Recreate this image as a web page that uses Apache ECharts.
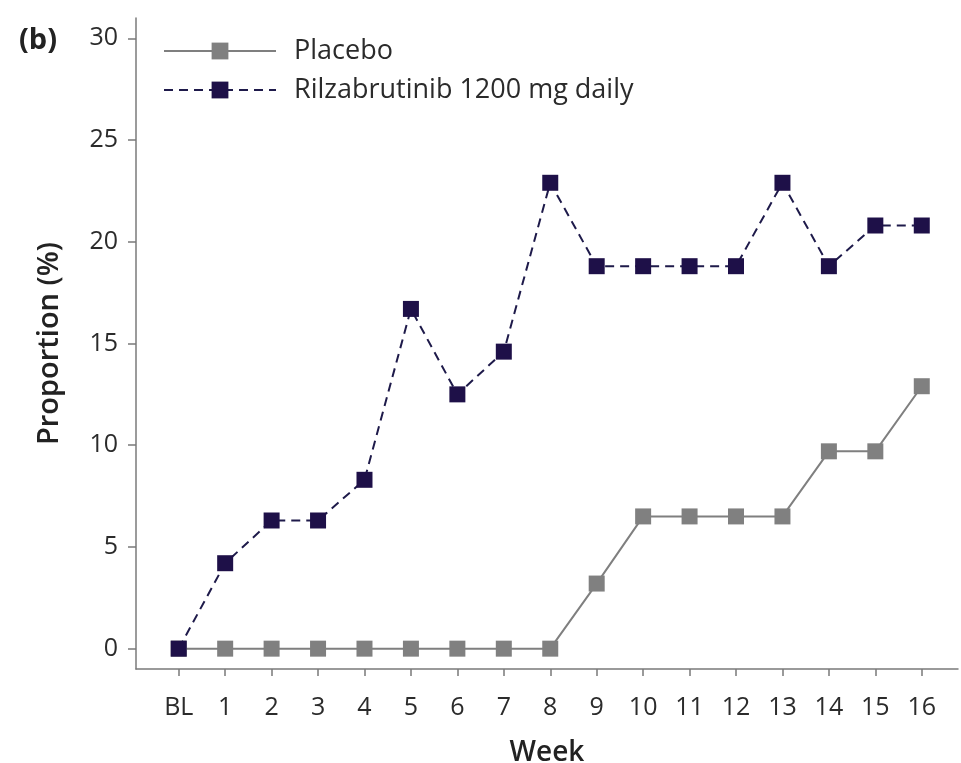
<!DOCTYPE html>
<html><head><meta charset="utf-8">
<script src="https://cdn.jsdelivr.net/npm/echarts@6/dist/echarts.min.js"></script>
<style>html,body{margin:0;padding:0;background:#fff}#c{width:961px;height:763px}</style>
</head><body><div id="c"></div>
<script>
const weeks = ['BL','1','2','3','4','5','6','7','8','9','10','11','12','13','14','15','16'];
const placebo = [0,0,0,0,0,0,0,0,0,3.2,6.5,6.5,6.5,6.5,9.7,9.7,12.9];
const rilza = [0,4.2,6.3,6.3,8.3,16.7,12.5,14.6,22.9,18.8,18.8,18.8,18.8,22.9,18.8,20.8,20.8];
const yTicks = [0,5,10,15,20,25,30];
const seriesNames = ['Placebo','Rilzabrutinib 1200 mg daily'];

const FONT = 'Open Sans';
const axisColor = '#7a7a7a';
const textColor = '#2b2b2b';
const xIdx = weeks.map((w,i)=>i);

const chart = echarts.init(document.getElementById('c'), null, {renderer:'canvas'});
chart.setOption({
  backgroundColor:'#ffffff',
  animation:false,
  title:{text:'(b)', left:14, top:21, textStyle:{fontFamily:FONT, fontWeight:'bold', fontSize:29, color:'#222'}},
  legend:{
    orient:'vertical', left:158, top:31, itemWidth:112, itemHeight:21, itemGap:9,
    textStyle:{fontFamily:FONT, fontSize:27, lineHeight:30, color:textColor, padding:[0,0,0,13]},
    data:seriesNames
  },
  grid:{left:136, right:3, top:18, bottom:94, outerBoundsMode:'none'},
  xAxis:{
    type:'value', min:-0.92, max:16.78,
    name:'Week', nameLocation:'middle', nameGap:70,
    nameTextStyle:{fontFamily:FONT, fontSize:28, fontWeight:600, color:'#222'},
    axisLine:{onZero:false, lineStyle:{color:axisColor, width:1.5}},
    axisTick:{show:true, length:7, customValues:xIdx, lineStyle:{color:axisColor, width:1.5}},
    axisLabel:{customValues:xIdx, margin:26, fontFamily:FONT, fontSize:25, color:textColor,
      formatter:(v)=>weeks[Math.round(v)]},
    splitLine:{show:false}
  },
  yAxis:{
    type:'value', min:-1, max:31,
    name:'Proportion (%)', nameLocation:'middle', nameGap:72, nameRotate:90,
    nameTextStyle:{fontFamily:FONT, fontSize:29, fontWeight:600, color:'#222'},
    axisLine:{show:true, onZero:false, lineStyle:{color:axisColor, width:1.5}},
    axisTick:{show:true, length:8, customValues:yTicks, lineStyle:{color:axisColor, width:1.5}},
    axisLabel:{customValues:yTicks, margin:18, fontFamily:FONT, fontSize:25, color:textColor},
    splitLine:{show:false}
  },
  series:[
    {name:seriesNames[0], type:'line', data:placebo.map((v,i)=>[xIdx[i],v]),
      symbol:'rect', symbolSize:16, z:2,
      itemStyle:{color:'#808080'}, lineStyle:{color:'#7f7f7f', width:2}},
    {name:seriesNames[1], type:'line', data:rilza.map((v,i)=>[xIdx[i],v]),
      symbol:'rect', symbolSize:16, z:3,
      itemStyle:{color:'#1e1048'}, lineStyle:{color:'#1e1a4a', width:2, type:[9,6]}}
  ]
});
</script></body></html>
